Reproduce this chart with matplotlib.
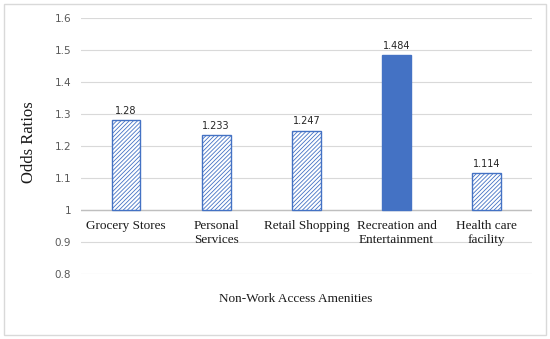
import matplotlib
matplotlib.use("Agg")
import matplotlib.pyplot as plt
from matplotlib.patches import Rectangle

# data
categories = ["Grocery Stores", "Personal\nServices", "Retail Shopping",
              "Recreation and\nEntertainment", "Health care\nfacility"]
odds = [1.28, 1.233, 1.247, 1.484, 1.114]
value_labels = ["1.28", "1.233", "1.247", "1.484", "1.114"]
hatched = [True, True, True, False, True]
yticks = [0.8, 0.9, 1.0, 1.1, 1.2, 1.3, 1.4, 1.5, 1.6]
ytick_labels = ["0.8", "0.9", "1", "1.1", "1.2", "1.3", "1.4", "1.5", "1.6"]

blue = "#4472C4"
plt.rcParams['hatch.linewidth'] = 0.6
plt.rcParams['hatch.color'] = blue

fig = plt.figure(figsize=(5.5, 3.39), dpi=100)
ax = fig.add_axes([0.147, 0.192, 0.82, 0.755])

base = 1.0
for i, v in enumerate(odds):
    if hatched[i]:
        ax.bar(i, v - base, bottom=base, width=0.32, color="white",
               edgecolor=blue, hatch="////////", linewidth=1.0, zorder=3)
    else:
        ax.bar(i, v - base, bottom=base, width=0.32, color=blue,
               edgecolor=blue, linewidth=1.0, zorder=3)
    ax.text(i, v + 0.014, value_labels[i], ha="center", va="bottom",
            fontsize=7, color="#262626", family="DejaVu Sans")

# category labels sit under the line at 1 (axis crosses there)
for i, c in enumerate(categories):
    ax.annotate(c, (i, base), xytext=(0, -7.5), textcoords="offset points",
                ha="center", va="top", fontsize=9.5, family="Liberation Serif",
                color="#1a1a1a", linespacing=1.15)

ax.axhline(base, color="#BFBFBF", linewidth=1.0, zorder=2)
ax.set_xlim(-0.5, len(categories) - 0.5)
ax.set_ylim(0.8, 1.6)
ax.set_yticks(yticks)
ax.set_yticklabels(ytick_labels, color="#595959", fontsize=7.5)
ax.set_xticks([])
ax.tick_params(axis="y", length=0, pad=7)
ax.grid(axis="y", color="#D9D9D9", linewidth=0.8, zorder=0)
ax.set_axisbelow(True)
for s in ax.spines.values():
    s.set_visible(False)

fig.text(0.537, 0.118, "Non-Work Access Amenities", ha="center", va="center",
         fontsize=9.5, family="Liberation Serif", color="#1a1a1a")
fig.text(0.052, 0.58, "Odds Ratios", ha="center", va="center", rotation=90,
         fontsize=12, family="Liberation Serif", color="#1a1a1a")

fig.patches.append(Rectangle((4 / 550, 4 / 339), 542 / 550, 331 / 339,
                             transform=fig.transFigure, fill=False,
                             edgecolor="#D9D9D9", linewidth=1.0))

fig.savefig("out.png", dpi=100)
